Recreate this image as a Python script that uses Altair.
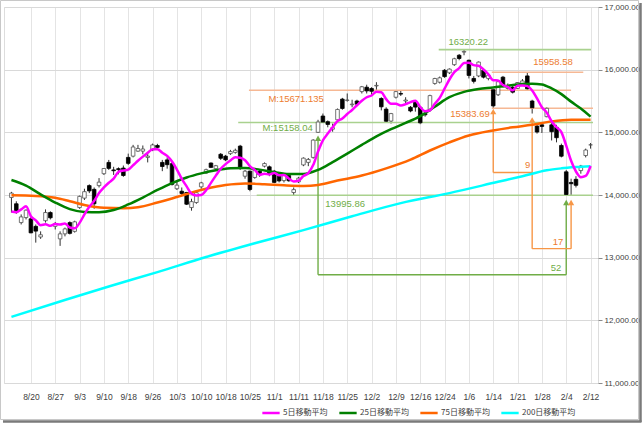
import altair as alt
import pandas as pd

# ---------------- data ----------------
dates = ["8/14","8/15","8/16","8/19","8/20","8/21","8/22","8/23","8/26","8/27",
         "8/28","8/29","8/30","9/2","9/3","9/4","9/5","9/6","9/9","9/10",
         "9/11","9/12","9/13","9/17","9/18","9/19","9/20","9/24","9/25","9/26",
         "9/27","9/30","10/1","10/2","10/3","10/4","10/7","10/8","10/9","10/10",
         "10/11","10/15","10/16","10/17","10/18","10/21","10/22","10/23","10/24","10/25",
         "10/28","10/29","10/30","10/31","11/1","11/5","11/6","11/7","11/8","11/11",
         "11/12","11/13","11/14","11/15","11/18","11/19","11/20","11/21","11/22","11/25",
         "11/26","11/27","11/28","11/29","12/2","12/3","12/4","12/5","12/6","12/9",
         "12/10","12/11","12/12","12/13","12/16","12/17","12/18","12/19","12/20","12/24",
         "12/25","12/26","12/27","12/30","1/6","1/7","1/8","1/9","1/10","1/14",
         "1/15","1/16","1/17","1/20","1/21","1/22","1/23","1/24","1/27","1/28",
         "1/29","1/30","1/31","2/3","2/4","2/5","2/6","2/7","2/10","2/12"]

opens = [13960,13860,13560,13640,13620,13500,13330,13590,13720,13500,
         13300,13380,13560,13420,13800,13950,14150,14090,14150,14340,
         14520,14400,14420,14430,14600,14620,14700,14700,14600,14720,
         14790,14520,14560,14500,14100,14060,14040,13800,13880,14130,
         14350,14510,14420,14650,14620,14660,14680,14780,14300,14380,
         14280,14380,14460,14450,14380,14320,14230,14310,14040,14210,
         14480,14520,14600,15000,15260,15170,15050,15200,15530,15510,
         15440,15500,15650,15720,15700,15740,15540,15370,15180,15560,
         15620,15500,15400,15480,15400,15300,15360,15780,15800,15990,
         15950,16080,16230,16280,16150,15860,15900,15990,15860,15680,
         15600,15880,15700,15720,15700,15780,15900,15500,15100,15120,
         15250,15120,15080,14790,14370,14200,14250,14390,14630,14800]
highs = [14050,13900,13690,13770,13650,13530,13420,13770,13740,13570,
         13420,13480,13580,13590,13990,14100,14170,14120,14270,14430,
         14560,14450,14440,14470,14660,14800,14800,14790,14680,14820,
         14817,14560,14600,14540,14230,14120,14050,13940,14060,14210,
         14420,14520,14480,14670,14640,14720,14740,14800,14400,14390,
         14420,14400,14520,14470,14400,14350,14350,14340,14120,14290,
         14600,14590,14890,15200,15300,15190,15140,15380,15550,15620,
         15520,15520,15740,15760,15720,15800,15560,15400,15310,15660,
         15670,15560,15420,15500,15410,15330,15600,15870,15890,16010,
         16020,16190,16250,16320.22,16160,15900,16130,16010,15930,15690,
         15820,15900,15780,15750,15800,15850,15958.58,15520,15130,15140,
         15400,15160,15120,14820,14400,14260,14300,14480,14740,14830]
lows = [13720,13700,13530,13610,13390,13240,13300,13560,13610,13450,
        13188,13340,13370,13400,13780,13920,14030,13780,14120,14320,
        14400,14320,14330,14290,14480,14600,14690,14650,14520,14700,
        14720,14380,14420,14150,14080,13990,13840,13750,13860,14100,
        14340,14430,14400,14560,14540,14640,14660,14400,14260,14060,
        14260,14290,14440,14300,14190,14200,14200,14210,14000,14190,
        14460,14460,14580,14990,15150,15080,15010,15190,15360,15490,
        15400,15420,15620,15620,15600,15640,15350,15150,15140,15540,
        15580,15460,15320,15330,15130,15250,15330,15760,15780,15870,
        15930,16060,16150,16230,15860,15780,15880,15860,15830,15383.69,
        15580,15720,15680,15620,15690,15760,15680,15300,14980,14990,
        15240,14870,14840,14600,14000,13995.86,14120,14340,14600,14740]
closes = [14030,13752,13650,13758,13396,13424,13365,13720,13636,13542,
          13380,13459,13388,13572,13978,14053,14065,13860,14205,14423,
          14425,14387,14404,14311,14505,14766,14742,14734,14620,14799,
          14760,14455,14484,14170,14157,14024,13853,13894,14037,14194,
          14404,14441,14467,14586,14561,14693,14713,14426,14380,14088,
          14396,14325,14502,14327,14201,14225,14337,14228,14086,14269,
          14588,14567,14876,15165,15164,15126,15076,15365,15381,15515,
          15450,15449,15727,15661,15655,15749,15407,15177,15299,15650,
          15610,15515,15341,15403,15152,15279,15586,15859,15870,15889,
          16009,16174,16178,16291,15908,15814,16121,15880,15912,15422,
          15808,15747,15734,15641,15795,15820,15695,15391,15005,15094,
          15383,15010,14914,14619,14008,14180,14155,14462,14718,14800]

ma5 = [13736,13725,13770,13820,13662,13596,13519,13533,13508,13537,
       13529,13547,13481,13468,13555,13690,13811,13906,14032,14121,
       14196,14260,14369,14390,14406,14475,14546,14612,14673,14732,
       14731,14674,14624,14534,14405,14258,14138,14020,13993,14000,
       14076,14194,14309,14418,14492,14550,14604,14596,14555,14460,
       14401,14323,14338,14328,14350,14316,14318,14264,14215,14229,
       14302,14348,14477,14693,14872,14980,15081,15179,15222,15293,
       15357,15432,15504,15560,15588,15648,15640,15530,15457,15456,
       15429,15450,15483,15504,15404,15338,15352,15456,15549,15697,
       15843,15960,16024,16108,16112,16073,16062,16003,15927,15830,
       15829,15754,15725,15670,15745,15747,15737,15668,15541,15401,
       15314,15177,15081,15004,14787,14546,14375,14285,14305,14463]

ma25_idx = [0,3,6,9,12,15,18,21,24,27,30,33,36,39,42,45,48,51,54,57,60,63,66,69,
            72,75,78,81,84,87,90,93,96,99,102,105,107,109,111,113,115,117,119]
ma25 = [14240,14150,14010,13880,13775,13730,13725,13760,13850,13960,14080,14190,
        14280,14345,14395,14425,14432,14405,14365,14335,14335,14400,14525,14660,
        14800,14935,15050,15150,15260,15410,15560,15645,15690,15715,15745,15770,
        15775,15765,15700,15610,15490,15380,15250]

ma75_idx = [0,5,9,12,15,19,23,26,30,33,36,40,44,48,52,56,60,63,67,72,77,82,86,90,
            94,99,103,107,111,115,119]
ma75 = [13995,13985,13955,13900,13840,13795,13790,13805,13880,13945,14015,14100,
        14160,14185,14172,14155,14145,14160,14230,14310,14425,14565,14710,14840,
        14950,15030,15080,15120,15175,15200,15200]

ma200_idx = [0,10,20,30,40,50,60,70,80,90,100,105,110,113,116,119]
ma200 = [12056,12300,12540,12770,13010,13230,13440,13660,13870,14030,14210,14300,
         14395,14425,14445,14460]

series_names = ["5日移動平均", "25日移動平均", "75日移動平均", "200日移動平均"]
series_colors = ["#ff00ff", "#008000", "#ff6600", "#00ffff"]

label_idx = [4, 9, 14, 19, 24, 29, 34, 39, 44, 49, 54, 59, 64, 69, 74, 79, 84, 89,
             94, 99, 104, 109, 114, 119]
y_ticks = [11000, 12000, 13000, 14000, 15000, 16000, 17000]

# horizontal reference levels
levels = [16320.22, 15958.58, 15671.135, 15383.69, 15158.04, 13995.86]
level_from = [87.8, 98.7, 48.8, 98.7, 46.6, 50.4]
level_to = [119.1, 117.5, 115.0, 119.5, 119.5, 119.5]
level_kind = ["g", "o", "o", "o", "g", "g"]

# day-count brackets (x in trading-day index, y in price)
seg_x = [63, 63, 114, 99, 99, 107, 107, 115]
seg_x2 = [63, 114, 114, 99, 107, 107, 115, 115]
seg_y = [14900, 12728, 12728, 15320, 14360, 15190, 13144, 13144]
seg_y2 = [12728, 12728, 13870, 14360, 14360, 13144, 13144, 13870]
seg_kind = ["g", "g", "g", "o", "o", "o", "o", "o"]

tip_x = [63, 114, 99, 107, 115]
tip_y = [14905, 13880, 15330, 15200, 13880]
tip_kind = ["g", "g", "o", "o", "o"]

txt = ["16320.22", "15958.58", "M:15671.135", "M:15158.04", "13995.86"]
txt_x = [89.8, 107.2, 52.8, 51.6, 64.5]
txt_y = [16440, 16125, 15528, 15064, 13864]
txt_kind = ["g", "o", "o", "g", "g"]

rtxt = ["15383.69", "9", "17", "52"]
rtxt_x = [98.3, 106.6, 113.4, 113.0]
rtxt_y = [15290, 14472, 13256, 12840]
rtxt_kind = ["o", "o", "o", "g"]

# ---------------- tables ----------------
df = pd.DataFrame({"idx": range(len(dates)), "date": dates, "open": opens,
                   "high": highs, "low": lows, "close": closes})
df["body_lo"] = df[["open", "close"]].min(axis=1)
df["body_hi"] = df[["open", "close"]].max(axis=1)

ma_rows = []
for i, v in zip(ma200_idx, ma200):
    ma_rows.append({"series": series_names[3], "idx": i, "val": v})
for i, v in zip(ma75_idx, ma75):
    ma_rows.append({"series": series_names[2], "idx": i, "val": v})
for i, v in zip(ma25_idx, ma25):
    ma_rows.append({"series": series_names[1], "idx": i, "val": v})
for i, v in enumerate(ma5):
    ma_rows.append({"series": series_names[0], "idx": i, "val": v})
ma_df = pd.DataFrame(ma_rows)

lev_df = pd.DataFrame({"lvl": levels, "x0": level_from, "x1": level_to, "kind": level_kind})
seg_df = pd.DataFrame({"x": seg_x, "x2": seg_x2, "y": seg_y, "y2": seg_y2, "kind": seg_kind})
tip_df = pd.DataFrame({"x": tip_x, "y": tip_y, "kind": tip_kind})
txt_df = pd.DataFrame({"t": txt, "x": txt_x, "y": txt_y, "kind": txt_kind})
rtxt_df = pd.DataFrame({"t": rtxt, "x": rtxt_x, "y": rtxt_y, "kind": rtxt_kind})

# ---------------- scales / axes ----------------
xs = alt.Scale(domain=[-0.5, 119.5], nice=False, zero=False)
ys = alt.Scale(domain=[11000, 17000], nice=False, zero=False)
label_expr = "[" + ",".join("'%s'" % d for d in dates) + "][datum.value]"

x_axis = alt.Axis(values=label_idx, labelExpr=label_expr, title=None, grid=True,
                  gridColor="#e4e4e4", ticks=False, domain=False, labelFontSize=8.5,
                  labelColor="#404040", labelPadding=9, labelFont="Liberation Sans")
y_axis = alt.Axis(orient="right", values=y_ticks, format=",.2f", title=None, grid=True,
                  gridColor="#d9d9d9", ticks=True, tickSize=4, tickColor="#8c8c8c",
                  domain=False, labelFontSize=8, labelColor="#404040", labelPadding=2,
                  labelFont="Liberation Sans")


def X(field):
    return alt.X(field, type="quantitative", scale=xs, axis=x_axis)


def Y(field):
    return alt.Y(field, type="quantitative", scale=ys, axis=y_axis)


line_col = alt.Scale(domain=["g", "o"], range=["#a9d18e", "#f6b894"])
arrow_col = alt.Scale(domain=["g", "o"], range=["#70ad47", "#f79646"])
text_col = alt.Scale(domain=["g", "o"], range=["#70ad47", "#ed7d31"])

wicks = alt.Chart(df).mark_rule(color="#303030", strokeWidth=1).encode(
    x=X("idx"), y=Y("low"), y2="high:Q",
)

bodies = alt.Chart(df).mark_bar(size=3.6, strokeWidth=0.8).encode(
    x=X("idx"), y=Y("body_lo"), y2="body_hi:Q",
    fill=alt.condition("datum.close >= datum.open", alt.value("#ffffff"), alt.value("#000000")),
    stroke=alt.condition("datum.close >= datum.open", alt.value("#505050"), alt.value("#000000")),
)

levels_layer = alt.Chart(lev_df).mark_rule(strokeWidth=1.6).encode(
    x=X("x0"), x2="x1:Q", y=Y("lvl"),
    color=alt.Color("kind:N", scale=line_col, legend=None),
)

segs = alt.Chart(seg_df).mark_rule(strokeWidth=1.4).encode(
    x=X("x"), x2="x2:Q", y=Y("y"), y2="y2:Q",
    color=alt.Color("kind:N", scale=arrow_col, legend=None),
)

tips = alt.Chart(tip_df).mark_point(shape="triangle-up", filled=True, size=38, opacity=1).encode(
    x=X("x"), y=Y("y"),
    color=alt.Color("kind:N", scale=arrow_col, legend=None),
)

ma_lines = alt.Chart(ma_df).mark_line(strokeWidth=2.5, interpolate="monotone").encode(
    x=X("idx"), y=Y("val"),
    color=alt.Color("series:N",
                    scale=alt.Scale(domain=series_names, range=series_colors),
                    legend=alt.Legend(orient="none", legendX=257, legendY=396,
                                      direction="horizontal", title=None,
                                      symbolType="stroke", symbolStrokeWidth=2.5,
                                      symbolSize=300, labelFontSize=8,
                                      labelFont="Noto Sans CJK JP", labelColor="#404040",
                                      columnPadding=6, labelOffset=2)),
    detail="series:N",
)

texts_l = alt.Chart(txt_df).mark_text(align="left", baseline="middle", fontSize=9.5,
                                      font="Liberation Sans").encode(
    x=X("x"), y=Y("y"), text="t:N",
    color=alt.Color("kind:N", scale=text_col, legend=None),
)
texts_r = alt.Chart(rtxt_df).mark_text(align="right", baseline="middle", fontSize=9.5,
                                       font="Liberation Sans").encode(
    x=X("x"), y=Y("y"), text="t:N",
    color=alt.Color("kind:N", scale=text_col, legend=None),
)

one = alt.Data(values=[{"k": 1}])
frame = alt.Chart(one).mark_rect(fill=None, stroke="#c8c8c8", strokeWidth=1).encode(
    x=alt.value(-3.5), x2=alt.value(634.5), y=alt.value(-6.5), y2=alt.value(412.5))
shadow_r = alt.Chart(one).mark_rule(color="#7a7a7a", strokeWidth=2.5).encode(
    x=alt.value(636.5), y=alt.value(-4), y2=alt.value(415))
shadow_b = alt.Chart(one).mark_rule(color="#7a7a7a", strokeWidth=2.5).encode(
    y=alt.value(414.5), x=alt.value(-1), x2=alt.value(637.5))

chart = alt.layer(
    wicks, levels_layer, bodies, segs, tips, ma_lines, texts_l, texts_r,
    frame, shadow_r, shadow_b,
).resolve_scale(color="independent").properties(
    width=594, height=376, padding=0,
).configure_view(stroke="#9a9a9a", strokeWidth=1).configure(background="white")

chart.save("out.html", embed_options={"renderer": "svg", "actions": False})
